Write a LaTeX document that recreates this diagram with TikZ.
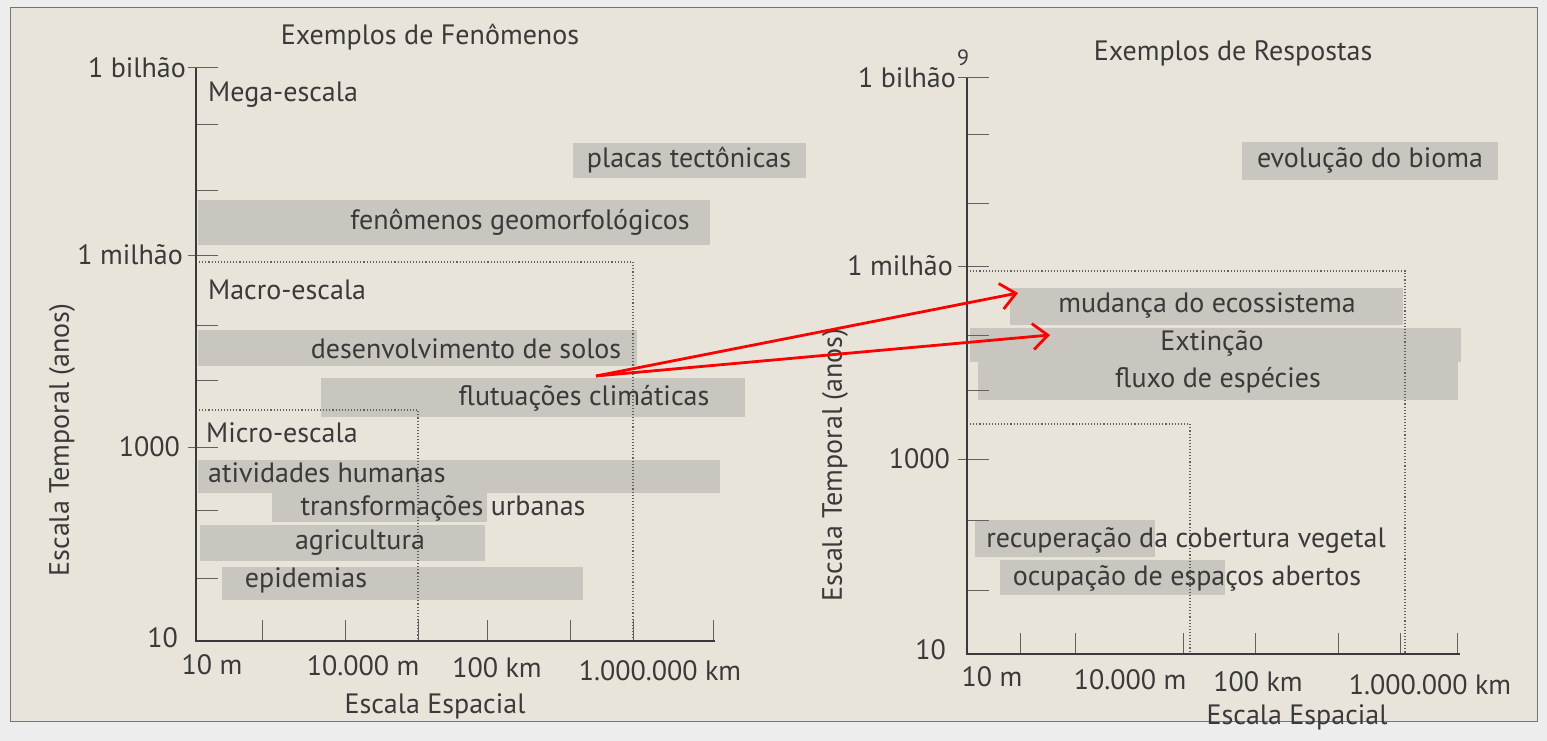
\documentclass[tikz,border=0pt]{standalone}
\usepackage{fontspec}
\setmainfont{PT Sans}
\usetikzlibrary{arrows.meta}
\definecolor{paper}{HTML}{E9E4DA}
\definecolor{outer}{HTML}{EDEDED}
\definecolor{barc}{HTML}{C9C5BF}
\definecolor{ink}{HTML}{3A3A3A}
\tikzset{
 lbl/.style={font=\fontsize{28}{32}\selectfont, text=ink, inner sep=0pt},
 axis/.style={draw=ink, line width=1.3pt},
 tickline/.style={draw=ink!80, line width=1pt},
 dots/.style={draw=ink!80, dotted, line width=1.1pt},
 bar/.style={fill=barc},
 redarrow/.style={draw=red, line width=2.8pt, -{Straight Barb[length=15pt,width=26pt]}}
}
\begin{document}
\begin{tikzpicture}[x=1pt,y=-1pt]
\useasboundingbox (0,0) rectangle (1547,741);
\fill[outer] (0,0) rectangle (1547,741);
\filldraw[fill=paper, draw=ink!70, line width=1pt] (10,8) rectangle (1537,721);

% ---------------- left panel ----------------
\fill[bar] (573,143) rectangle (806,178);
\fill[bar] (198,200) rectangle (710,245);
\fill[bar] (198,330) rectangle (637,366);
\fill[bar] (321,378) rectangle (745,417);
\fill[bar] (198,460) rectangle (720,493);
\fill[bar] (272,493) rectangle (487,522);
\fill[bar] (200,525) rectangle (485,561);
\fill[bar] (222,567) rectangle (583,600);

\draw[dots] (196,262) -- (633,262) -- (633,641);
\draw[dots] (196,410) -- (418,410) -- (418,641);

\foreach \y in {125,190,325,380,510,578} \draw[tickline] (196,\y) -- (218,\y);
\foreach \y in {68,255,447} \draw[tickline] (188,\y) -- (218,\y);
\foreach \x in {262,345,418,487,570,633,713} \draw[tickline] (\x,641) -- (\x,620);
\draw[axis] (196,68) -- (196,641) -- (715,641);

\node[lbl] (tl) at (430,37) {Exemplos de Fenômenos};
\node[lbl, anchor=east] (lyb) at (186,68) {1 bilhão};
\node[lbl, anchor=east] (lym) at (183,255) {1 milhão};
\node[lbl, anchor=east] (lyk) at (180,447) {1000};
\node[lbl, anchor=east] (lyt) at (178,638) {10};
\node[lbl, rotate=90] (lyl) at (62,440) {Escala Temporal (anos)};
\node[lbl] (lx1) at (212,665) {10 m};
\node[lbl] (lx2) at (363,666) {10.000 m};
\node[lbl] (lx3) at (497,668) {100 km};
\node[lbl] (lx4) at (660,671) {1.000.000 km};
\node[lbl] (lxl) at (435,706) {Escala Espacial};

\node[lbl, anchor=west] (mega) at (208,95) {Mega-escala};
\node[lbl, anchor=west] (macro) at (208,290) {Macro-escala};
\node[lbl, anchor=west] (micro) at (206,433) {Micro-escala};

\node[lbl] (placas) at (689,160) {placas tectônicas};
\node[lbl] (geomorf) at (520,222) {fenômenos geomorfológicos};
\node[lbl] (solos) at (466,349) {desenvolvimento de solos};
\node[lbl] (clima) at (584,398) {flutuações climáticas};
\node[lbl, anchor=west] (humanas) at (208,473) {atividades humanas};
\node[lbl] (urbanas) at (443,508) {transformações urbanas};
\node[lbl] (agric) at (360,543) {agricultura};
\node[lbl] (epid) at (306,580) {epidemias};

% ---------------- right panel ----------------
\fill[bar] (1242,142) rectangle (1498,180);
\fill[bar] (1010,288) rectangle (1403,325);
\fill[bar] (970,328) rectangle (1461,362);
\fill[bar] (978,362) rectangle (1458,400);
\fill[bar] (975,520) rectangle (1155,557);
\fill[bar] (1000,560) rectangle (1225,595);

\draw[dots] (967,271) -- (1405,271) -- (1405,654);
\draw[dots] (967,424) -- (1190,424) -- (1190,654);

\foreach \y in {135,203,335,390,520,590} \draw[tickline] (967,\y) -- (989,\y);
\foreach \y in {78,266,459} \draw[tickline] (958,\y) -- (989,\y);
\foreach \x in {1020,1075,1183,1255,1338,1400,1457} \draw[tickline] (\x,654) -- (\x,633);
\draw[axis] (967,78) -- (967,654) -- (1460,654);

\node[lbl] (tr) at (1233,53) {Exemplos de Respostas};
\node[lbl, anchor=east] (ryb) at (956,78) {1 bilhão};
\node[lbl, font=\fontsize{22}{24}\selectfont] (rsup) at (963,58) {9};
\node[lbl, anchor=east] (rym) at (953,266) {1 milhão};
\node[lbl, anchor=east] (ryk) at (950,459) {1000};
\node[lbl, anchor=east] (ryt) at (946,650) {10};
\node[lbl, rotate=90] (ryl) at (835,465) {Escala Temporal (anos)};
\node[lbl] (rx1) at (992,677) {10 m};
\node[lbl] (rx2) at (1130,680) {10.000 m};
\node[lbl] (rx3) at (1258,682) {100 km};
\node[lbl] (rx4) at (1430,685) {1.000.000 km};
\node[lbl] (rxl) at (1297,717) {Escala Espacial};

\node[lbl] (bioma) at (1370,160) {evolução do bioma};
\node[lbl] (ecoss) at (1207,305) {mudança do ecossistema};
\node[lbl] (extin) at (1212,343) {Extinção};
\node[lbl] (fluxo) at (1218,380) {fluxo de espécies};
\node[lbl] (recup) at (1186,540) {recuperação da cobertura vegetal};
\node[lbl] (ocup) at (1187,578) {ocupação de espaços abertos};

% ---------------- arrows ----------------
\coordinate (src) at (596,376);
\coordinate (dst1) at (1018,293);
\coordinate (dst2) at (1050,335);
\draw[redarrow] (src) -- (dst1);
\draw[redarrow] (src) -- (dst2);
\end{tikzpicture}
\end{document}
